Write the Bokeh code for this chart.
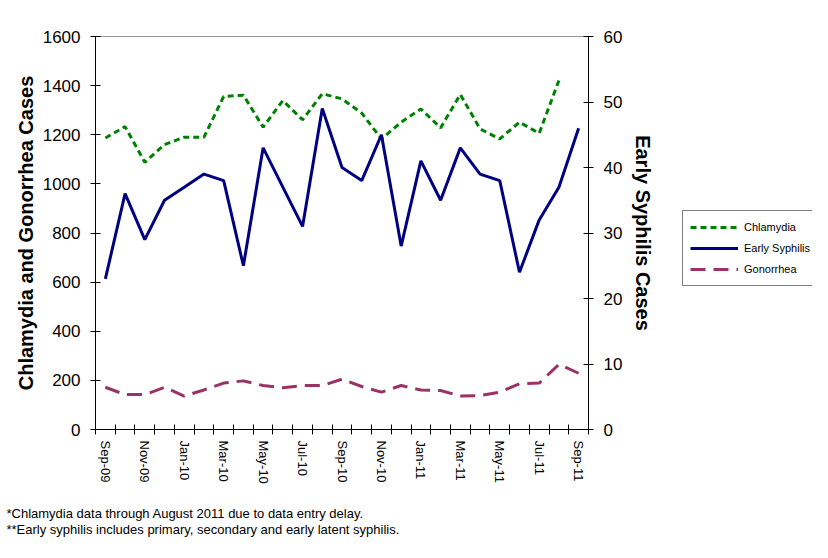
from bokeh.plotting import figure
from bokeh.layouts import row
from bokeh.models import (Range1d, LinearAxis, FixedTicker, Legend, LegendItem, Title)
from bokeh.embed import file_html
from bokeh.resources import INLINE

months = ["Sep-09", "Oct-09", "Nov-09", "Dec-09", "Jan-10", "Feb-10", "Mar-10", "Apr-10",
          "May-10", "Jun-10", "Jul-10", "Aug-10", "Sep-10", "Oct-10", "Nov-10", "Dec-10",
          "Jan-11", "Feb-11", "Mar-11", "Apr-11", "May-11", "Jun-11", "Jul-11", "Aug-11", "Sep-11"]

chlamydia = [1187, 1233, 1088, 1160, 1190, 1190, 1356, 1361, 1231, 1339, 1261, 1367,
             1346, 1288, 1183, 1251, 1305, 1228, 1364, 1224, 1183, 1251, 1206, 1421]
syphilis = [23, 36, 29, 35, 37, 39, 38, 25, 43, 37, 31, 49, 40, 38, 45, 28, 41, 35,
            43, 39, 38, 24, 32, 37, 46]
gonorrhea = [172, 142, 142, 172, 136, 161, 189, 198, 179, 170, 179, 179, 205, 175, 152,
             179, 161, 159, 136, 138, 152, 186, 189, 265, 229]

series_names = ["Chlamydia", "Early Syphilis", "Gonorrhea"]
notes = ["*Chlamydia data through August 2011 due to data entry delay.",
         "**Early syphilis includes primary, secondary and early latent syphilis."]

FONT = "Liberation Sans"
COLORS = ["#008000", "#000080", "#993366"]
DASHES = ["6 4", "solid", "15 8"]
xs = list(range(len(months)))

p = figure(width=660, height=542, output_backend="svg", toolbar_location=None,
           x_range=Range1d(-0.5, len(months) - 0.5), y_range=Range1d(0, 1600),
           min_border_left=95, min_border_right=72, min_border_top=36, min_border_bottom=113)
p.extra_y_ranges = {"syph": Range1d(0, 60)}
p.grid.visible = False
p.outline_line_color = "#999999"
p.background_fill_color = "white"
p.border_fill_color = "white"

# x axis
xa = p.xaxis[0]
xa.ticker = FixedTicker(ticks=xs[::2], minor_ticks=[i - 0.5 for i in range(len(months) + 1)])
xa.major_label_overrides = {i: months[i] for i in xs[::2]}
xa.major_label_orientation = "vertical"
xa.major_tick_line_color = None
xa.minor_tick_in = 5
xa.minor_tick_out = 5
xa.minor_tick_line_color = "black"
xa.axis_line_color = "black"
xa.major_label_text_font = FONT
xa.major_label_text_font_size = "13px"
xa.major_label_text_color = "black"
xa.major_label_standoff = 5

# left axis
ya = p.yaxis[0]
ya.ticker = FixedTicker(ticks=list(range(0, 1601, 200)))
ya.minor_tick_line_color = None
ya.major_tick_in = 5
ya.major_tick_out = 5
ya.major_label_text_font = FONT
ya.major_label_text_font_size = "17px"
ya.major_label_text_color = "black"
ya.major_label_standoff = 10
ya.axis_label = "Chlamydia and Gonorrhea Cases"
ya.axis_label_text_font = FONT
ya.axis_label_text_font_size = "20px"
ya.axis_label_text_font_style = "bold"
ya.axis_label_text_color = "black"
ya.axis_label_standoff = 3

# right axis
ra = LinearAxis(y_range_name="syph", ticker=FixedTicker(ticks=list(range(0, 61, 10))))
ra.minor_tick_line_color = None
ra.major_tick_in = 5
ra.major_tick_out = 5
ra.major_label_text_font = FONT
ra.major_label_text_font_size = "17px"
ra.major_label_text_color = "black"
ra.major_label_standoff = 10
ra.axis_label = "Early Syphilis Cases"
ra.axis_label_text_font = FONT
ra.axis_label_text_font_size = "20px"
ra.axis_label_text_font_style = "bold"
ra.axis_label_text_color = "black"
ra.axis_label_standoff = 7
p.add_layout(ra, "right")

p.line(xs[:len(chlamydia)], chlamydia, line_color=COLORS[0], line_width=3, line_dash=DASHES[0])
p.line(xs, syphilis, line_color=COLORS[1], line_width=3, line_dash=DASHES[1], y_range_name="syph")
p.line(xs, gonorrhea, line_color=COLORS[2], line_width=3, line_dash=DASHES[2])

# spacer between the axis labels and the footnotes
p.add_layout(Title(text=" ", text_font_size="1px", standoff=9), "below")
p.add_layout(Title(text="\n".join(notes), align="left", offset=-89, text_font=FONT,
                   text_font_size="13px", text_font_style="normal", text_color="black",
                   text_line_height=1.12, standoff=10), "below")

# legend panel (separate canvas so it is not clipped by the plot frame)
lg = figure(width=152, height=542, output_backend="svg", toolbar_location=None,
            x_axis_type=None, y_axis_type=None, min_border=0,
            x_range=Range1d(0, 1), y_range=Range1d(0, 1))
lg.grid.visible = False
lg.outline_line_color = None
lg.background_fill_color = "white"
lg.border_fill_color = "white"
items = []
for name, c, d in zip(series_names, COLORS, DASHES):
    r = lg.line([5, 6], [5, 6], line_color=c, line_width=3, line_dash=d)
    items.append(LegendItem(label=name, renderers=[r]))
legend = Legend(items=items, location=(22, 143))
legend.label_text_font = FONT
legend.label_text_font_size = "11px"
legend.label_text_color = "black"
legend.glyph_width = 48
legend.glyph_height = 18
legend.label_height = 18
legend.spacing = 3
legend.padding = 7
legend.margin = 0
legend.border_line_color = "black"
legend.border_line_width = 1
legend.label_standoff = 6
lg.add_layout(legend, "center")

layout = row(p, lg, spacing=0)
open("out.html", "w").write(file_html(layout, INLINE))
